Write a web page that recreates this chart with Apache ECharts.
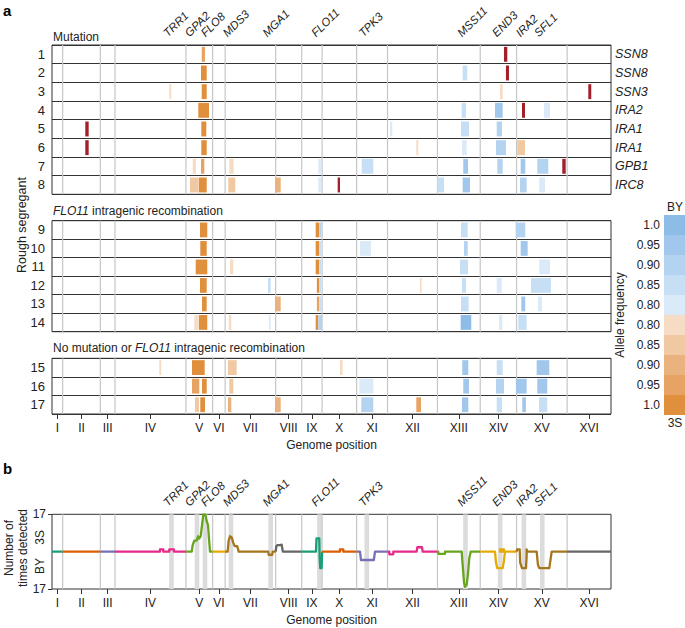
<!DOCTYPE html>
<html><head><meta charset="utf-8">
<script src="https://cdn.jsdelivr.net/npm/echarts@6/dist/echarts.min.js"></script>
<style>html,body{margin:0;padding:0;background:#fff}#c{width:685px;height:628px}</style>
</head><body><div id="c"></div><script>
// ---------------- data ----------------
const chromNames = ['I','II','III','IV','V','VI','VII','VIII','IX','X','XI','XII','XIII','XIV','XV','XVI'];
const chromLengthsMb = [0.230218,0.813184,0.316620,1.531933,0.576874,0.270161,1.090940,0.562643,0.439888,0.745751,0.666816,1.078177,0.924431,0.784333,1.091291,0.948066];
const geneNames = ['TRR1','GPA2','FLO8','MDS3','MGA1','FLO11','TPK3','MSS11','END3','IRA2','SFL1'];
const genePositionsMb = [2.580,3.131,3.304,3.865,4.722,5.776,6.798,8.929,9.678,10.190,10.587];
const rowsMutation = ['1','2','3','4','5','6','7','8'];
const rowsFlo11 = ['9','10','11','12','13','14'];
const rowsNone = ['15','16','17'];
const mutatedGenes = ['SSN8','SSN8','SSN3','IRA2','IRA1','IRA1','GPB1','IRC8'];
const frequencyKeys = ['B1.0','B0.95','B0.90','B0.85','B0.80','S0.80','S0.85','S0.90','S0.95','S1.0'];
const frequencyValues = [-1.0,-0.95,-0.90,-0.85,-0.80,0.80,0.85,0.90,0.95,1.0];
// segments: [row, startMb, endMb, freq]; freq > 0 : 3S allele, freq < 0 : BY allele, 0 : mutation
const segmentsMutation = [
 [0,3.233,3.304,0.95],[0,9.760,9.832,0],
 [1,3.217,3.341,1.0],[1,8.868,8.968,-0.85],[1,9.803,9.868,0],
 [2,2.533,2.576,0.80],[2,3.233,3.341,1.0],[2,9.674,9.732,0.80],[2,11.581,11.645,0],
 [3,3.159,3.390,1.0],[3,8.847,8.940,-0.85],[3,9.566,9.732,-0.95],[3,10.149,10.214,0],[3,10.624,10.754,-0.80],
 [4,0.719,0.792,0],[4,3.224,3.332,1.0],[4,7.299,7.348,-0.80],[4,8.832,9.005,-0.85],[4,9.603,9.717,-0.90],
 [5,0.719,0.792,0],[5,3.224,3.341,1.0],[5,7.867,7.910,0.80],[5,8.853,8.955,-0.80],[5,9.588,9.803,-0.90],[5,10.047,10.214,0.85],
 [6,3.038,3.110,0.80],[6,3.217,3.289,0.95],[6,3.829,3.924,0.80],[6,5.750,5.809,-0.80],[6,6.688,6.938,-0.85],[6,8.881,8.983,-0.95],[6,9.616,9.732,-0.90],[6,10.121,10.220,-0.95],[6,10.479,10.717,-0.90],[6,11.019,11.093,0],
 [7,2.980,3.168,0.85],[7,3.174,3.341,1.0],[7,3.807,3.958,0.85],[7,4.815,4.939,0.90],[7,5.750,5.809,-0.80],[7,6.169,6.219,0],[7,8.320,8.465,-0.85],[7,8.868,9.026,-0.95],[7,10.106,10.250,-0.90],[7,10.522,10.646,-0.80]
];
const segmentsFlo11 = [
 [0,3.196,3.353,1.0],[0,5.694,5.772,1.0],[0,5.772,5.815,-0.90],[0,8.832,8.977,-0.85],[0,10.013,10.220,-0.90],
 [1,3.202,3.341,1.0],[1,5.694,5.772,1.0],[1,5.772,5.809,-0.85],[1,6.651,6.888,-0.80],[1,8.897,8.977,-0.90],[1,10.121,10.272,-0.95],
 [2,3.103,3.353,1.0],[2,3.844,3.915,0.80],[2,5.694,5.772,1.0],[2,5.772,5.809,-0.85],[2,8.810,8.983,-0.85],[2,10.522,10.754,-0.80],
 [3,3.196,3.341,1.0],[3,4.664,4.722,-0.85],[3,5.720,5.772,1.0],[3,5.772,5.809,-0.85],[3,7.946,7.983,0.80],[3,8.853,8.940,-0.85],[3,9.603,9.711,-0.80],[3,10.343,10.775,-0.85],
 [4,3.239,3.341,1.0],[4,4.815,4.939,0.90],[4,5.720,5.772,0.95],[4,5.772,5.809,-0.85],[4,8.832,8.998,-0.85],[4,10.134,10.220,-0.95],[4,10.494,10.581,-0.80],
 [5,3.073,3.168,0.80],[5,3.174,3.353,1.0],[5,3.816,3.872,0.80],[5,4.686,4.722,-0.80],[5,5.694,5.750,1.0],[5,5.750,5.830,-0.90],[5,8.825,9.054,-1.0],[5,9.652,9.724,-0.80],[5,10.069,10.250,-0.85]
];
const segmentsNone = [
 [0,2.317,2.360,0.80],[0,3.023,3.297,1.0],[0,3.800,3.988,0.85],[0,6.219,6.277,0.80],[0,8.860,8.990,-0.95],[0,9.603,9.732,-0.85],[0,10.466,10.739,-0.95],
 [1,3.023,3.181,0.95],[1,3.239,3.341,1.0],[1,3.829,3.915,0.85],[1,6.636,6.938,-0.80],[1,8.881,9.005,-0.95],[1,9.588,9.760,-0.90],[1,10.019,10.250,-0.95],[1,10.479,10.695,-0.95],
 [2,3.088,3.174,0.85],[2,3.202,3.304,1.0],[2,3.800,3.872,0.90],[2,4.815,4.939,0.90],[2,6.679,6.938,-0.90],[2,7.867,7.968,0.95],[2,8.853,8.990,-0.95],[2,9.603,9.717,-0.85],[2,10.155,10.235,-0.95],[2,10.516,10.695,-0.85]
];
// panel b: number of times detected, [genomeMb, count]; positive = 3S, negative = BY
const countsI = [[0,0],[0.230,0]];
const countsII = [[0.230,0],[1.043,0]];
const countsIII = [[1.043,0],[1.360,0]];
const countsIV = [[1.360,0],[2.332,0],[2.332,1],[2.403,1],[2.403,0],[2.533,0],[2.533,1],[2.634,1],[2.634,0],[2.892,0]];
const countsV = [[2.892,0],[3.017,0],[3.038,3],[3.073,5],[3.124,5],[3.153,7],[3.181,6],[3.210,7],[3.239,12],[3.267,17],[3.310,17],[3.340,14],[3.369,12],[3.390,6],[3.412,0],[3.469,0]];
const countsVI = [[3.469,0],[3.739,0]];
const countsVII = [[3.739,0],[3.793,0],[3.815,5],[3.844,7],[3.880,6.5],[3.915,4],[3.945,2.5],[4.001,2.5],[4.031,0],[4.671,0],[4.680,-1.5],[4.755,-1.5],[4.766,0],[4.830,0]];
const countsVIII = [[4.830,0],[4.845,2.5],[4.870,3],[4.930,3],[4.960,3.2],[4.985,0],[5.393,0]];
const countsIX = [[5.393,0],[5.700,0],[5.712,6],[5.772,6],[5.780,-3],[5.792,-7.5],[5.822,-7.5],[5.833,0]];
const countsX = [[5.833,0],[6.219,0],[6.219,1],[6.290,1],[6.290,0],[6.578,0]];
const countsXI = [[6.578,0],[6.651,0],[6.672,-3.8],[6.950,-3.8],[6.975,0],[7.245,0]];
const countsXII = [[7.245,0],[7.284,0],[7.284,-1.2],[7.370,-1.2],[7.370,0],[7.874,0],[7.890,2],[7.990,2],[8.004,0],[8.323,0]];
const countsXIII = [[8.323,0],[8.342,0],[8.342,-1],[8.487,-1],[8.487,0],[8.847,0],[8.868,-6],[8.897,-14],[8.918,-16],[8.955,-15],[8.983,-10],[9.011,-3],[9.041,0],[9.248,0]];
const countsXIV = [[9.248,0],[9.566,0],[9.588,-5],[9.616,-7.5],[9.732,-7.5],[9.760,-4],[9.782,0],[9.760,0],[9.760,1],[9.674,1],[9.674,0],[10.032,0]];
const countsXV = [[10.032,0],[10.045,1],[10.100,1],[10.110,-5],[10.149,-7.5],[10.235,-7.5],[10.250,-2],[10.250,1],[10.265,1],[10.272,0],[10.466,0],[10.494,-6],[10.522,-7.5],[10.739,-7.5],[10.790,0],[11.123,0]];
const countsXVI = [[11.123,0],[12.071,0]];
const chromTraces = [countsI,countsII,countsIII,countsIV,countsV,countsVI,countsVII,countsVIII,countsIX,countsX,countsXI,countsXII,countsXIII,countsXIV,countsXV,countsXVI];

// ---------------- styles ----------------
const FONT = '"Liberation Sans", Arial, Helvetica, sans-serif';
const byColors = ['#dbeaf8','#c6dff4','#b3d3f0','#a1c8ec','#8dbce6'];
const sColors  = ['#f6dcc4','#f0c8a2','#eab27e','#e6a363','#e08f3d'];
const mutColor = '#a3202a';
const dark2 = ['#1B9E77','#D95F02','#7570B3','#E7298A','#66A61E','#E6AB02','#A6761D','#666666'];
function colorFor(f){
  if (f === 0) return mutColor;
  const idx = Math.round((Math.abs(f) - 0.80) / 0.05);
  return f < 0 ? byColors[idx] : sColors[idx];
}
// label nudges (pixels) so that crowded gene names do not overlap
const geneLabelShift = {GPA2:-6, FLO8:2};

// derived genome geometry
const chromStarts = []; let acc = 0;
chromLengthsMb.forEach(l => { chromStarts.push(acc); acc += l; });
const genomeLength = acc;
const chromCenters = chromStarts.map((s,i) => s + chromLengthsMb[i]/2);
const chromBounds = chromStarts.slice(1);
const chromLabel = v => { let k = 0, d = 1e9; chromCenters.forEach((c,i)=>{ if (Math.abs(c-v) < d){d=Math.abs(c-v);k=i;} }); return chromNames[k]; };

// ---------------- layout ----------------
const L = 52, W = 559;
const grids = [
  {left:L, top:45, width:W, height:149.3},
  {left:L, top:220.7, width:W, height:111},
  {left:L, top:358.3, width:W, height:55.7},
  {left:L, top:514.3, width:W, height:74.7},
  {left:664, top:215, width:22, height:200}
].map(g => Object.assign({show: g.left===L, borderColor:'#333', borderWidth:1, backgroundColor:'transparent', outerBoundsMode:'none', containLabel:false}, g));

function hiddenX(gi){
  return {type:'value', gridIndex:gi, min:0, max:genomeLength, axisLine:{show:false,onZero:false}, axisTick:{show:false}, axisLabel:{show:false}, splitLine:{show:false}};
}
function labeledX(gi){
  return {type:'value', gridIndex:gi, min:0, max:genomeLength, position:'bottom',
    axisLine:{show:false,onZero:false},
    axisTick:{show:true, customValues:chromCenters, length:5, lineStyle:{color:'#333', width:1}},
    axisLabel:{show:true, customValues:chromCenters, formatter:chromLabel, color:'#222', fontSize:12, fontFamily:FONT, margin:8},
    splitLine:{show:false},
    name:'Genome position', nameLocation:'middle', nameGap:25, nameTextStyle:{color:'#222', fontSize:12, fontFamily:FONT}};
}
function rowY(gi, rows){
  return {type:'category', gridIndex:gi, data:rows, inverse:true, boundaryGap:true, position:'left',
    axisLine:{show:false}, axisTick:{show:false},
    axisLabel:{color:'#222', fontSize:13, fontFamily:FONT, margin:7, interval:0},
    splitLine:{show:true, interval:0, lineStyle:{color:'#333', width:1}}};
}

const xAxes = [hiddenX(0), hiddenX(1), labeledX(2), labeledX(3),
  {type:'value', gridIndex:4, min:0, max:1, show:false}];
const yAxes = [
  rowY(0, rowsMutation),
  {type:'category', gridIndex:0, data:mutatedGenes, inverse:true, position:'right',
    axisLine:{show:false}, axisTick:{show:false}, splitLine:{show:false},
    axisLabel:{color:'#222', fontSize:12.5, fontStyle:'italic', fontFamily:FONT, margin:4, interval:0}},
  rowY(1, rowsFlo11),
  rowY(2, rowsNone),
  {type:'value', gridIndex:3, min:-17, max:17, position:'left',
    axisLine:{show:false,onZero:false}, splitLine:{show:false},
    axisTick:{show:true, customValues:[-17,17], length:4, lineStyle:{color:'#333'}},
    axisLabel:{customValues:[-17,17], formatter:()=> '17', color:'#222', fontSize:12, fontFamily:FONT, margin:6}},
  {type:'value', gridIndex:3, min:-17, max:17, position:'left',
    axisLine:{show:false,onZero:false}, splitLine:{show:false}, axisTick:{show:false},
    axisLabel:{customValues:[-6.5,6.5], formatter:v => v > 0 ? '3S' : 'BY', rotate:90, color:'#222', fontSize:12, fontFamily:FONT, margin:6}},
  {type:'category', gridIndex:4, data:frequencyKeys, inverse:true, position:'left',
    axisLine:{show:false}, axisTick:{show:false}, splitLine:{show:false},
    axisLabel:{formatter:v => v.slice(1), color:'#222', fontSize:12, fontFamily:FONT, margin:4, interval:0},
    name:'Allele frequency', nameLocation:'middle', nameGap:38, nameRotate:90,
    nameTextStyle:{color:'#222', fontSize:12, fontFamily:FONT}}
];

// ---------------- renderers ----------------
function sepSeries(xi, yi){
  return {type:'custom', xAxisIndex:xi, yAxisIndex:yi, silent:true, z:1,
    data: chromBounds.map(b => [b]), encode:{x:0},
    renderItem:(params, api) => {
      const x = api.coord([api.value(0), 0])[0];
      const cs = params.coordSys;
      return {type:'line', shape:{x1:x, y1:cs.y, x2:x, y2:cs.y+cs.height}, style:{stroke:'#c6c6c6', lineWidth:1.2}};
    }};
}
function segSeries(segs, xi, yi){
  return {type:'custom', xAxisIndex:xi, yAxisIndex:yi, silent:true, z:3,
    data: segs.map(s => [s[1], s[0], s[2]]), encode:{x:[0,2], y:1},
    renderItem:(params, api) => {
      const s = segs[params.dataIndex];
      const p0 = api.coord([s[1], s[0]]);
      const p1 = api.coord([s[2], s[0]]);
      const h = api.size([0,1])[1] * 0.8;
      return {type:'rect', shape:{x:p0[0], y:p0[1]-h/2, width:Math.max(p1[0]-p0[0],1.5), height:h}, style:{fill:colorFor(s[3])}};
    }};
}
function geneLabelSeries(xi, yi){
  return {type:'custom', xAxisIndex:xi, yAxisIndex:yi, silent:true, z:4, clip:false,
    data: genePositionsMb.map(g => [g]), encode:{x:0},
    renderItem:(params, api) => {
      const name = geneNames[params.dataIndex];
      const sh = geneLabelShift[name] !== undefined ? geneLabelShift[name] : -2;
      const x = api.coord([api.value(0), 0])[0];
      const cs = params.coordSys;
      return {type:'text', x:x+sh, y:cs.y-6, rotation:Math.PI/4,
        style:{text:name, fill:'#222', fontSize:11.5, fontStyle:'italic', fontFamily:FONT, align:'left', verticalAlign:'bottom'}};
    }};
}
function bandSeries(xi, yi){
  return {type:'custom', xAxisIndex:xi, yAxisIndex:yi, silent:true, z:0,
    data: genePositionsMb.map(g => [g]), encode:{x:0},
    renderItem:(params, api) => {
      const a = api.coord([api.value(0)-0.05, 0])[0];
      const b = api.coord([api.value(0)+0.05, 0])[0];
      const cs = params.coordSys;
      return {type:'rect', shape:{x:a, y:cs.y, width:b-a, height:cs.height}, style:{fill:'#dcdcdc'}};
    }};
}

const series = [
  sepSeries(0,0), sepSeries(1,2), sepSeries(2,3), sepSeries(3,4),
  segSeries(segmentsMutation,0,0), segSeries(segmentsFlo11,1,2), segSeries(segmentsNone,2,3),
  geneLabelSeries(0,0), geneLabelSeries(3,4), bandSeries(3,4),
  {type:'bar', xAxisIndex:4, yAxisIndex:6, barWidth:'100%', barCategoryGap:'0%', silent:true,
    data: frequencyValues.map(f => ({value:1, itemStyle:{color:colorFor(f)}}))}
];
chromTraces.forEach((t, i) => {
  series.push({type:'line', xAxisIndex:3, yAxisIndex:4, data:t, showSymbol:false, symbol:'none', silent:true, z:5,
    lineStyle:{color:dark2[i % 8], width:2.3, join:'round'}});
});

const T = (text, x, y, extra) => ({type:'text', x, y, silent:true,
  style:Object.assign({text, fill:'#222', fontSize:12, fontFamily:FONT}, extra || {})});

const graphic = [
  T('a', 3, 3, {fontSize:15, fontWeight:'bold', fill:'#000'}),
  T('b', 3, 461, {fontSize:15, fontWeight:'bold', fill:'#000'}),
  T('Mutation', 53, 37, {verticalAlign:'middle'}),
  T('{i|FLO11} intragenic recombination', 53, 210.5, {verticalAlign:'middle', rich:{i:{fontStyle:'italic', fontSize:12, fontFamily:FONT, fill:'#222'}}}),
  T('No mutation or {i|FLO11} intragenic recombination', 53, 348, {verticalAlign:'middle', rich:{i:{fontStyle:'italic', fontSize:12, fontFamily:FONT, fill:'#222'}}}),
  Object.assign(T('Rough segregant', 22, 225, {align:'center', verticalAlign:'middle', fontSize:12.5}), {rotation:Math.PI/2}),
  Object.assign(T('Number of\ntimes detected', 16, 548, {align:'center', verticalAlign:'middle', fontSize:12, lineHeight:14}), {rotation:Math.PI/2}),
  T('BY', 675, 207, {align:'center', verticalAlign:'middle'}),
  T('3S', 675, 423, {align:'center', verticalAlign:'middle'})
];

const chart = echarts.init(document.getElementById('c'), null, {renderer:'svg'});
chart.setOption({
  animation:false,
  backgroundColor:'#fff',
  textStyle:{fontFamily:FONT},
  grid:grids, xAxis:xAxes, yAxis:yAxes, series, graphic
});
</script></body></html>
